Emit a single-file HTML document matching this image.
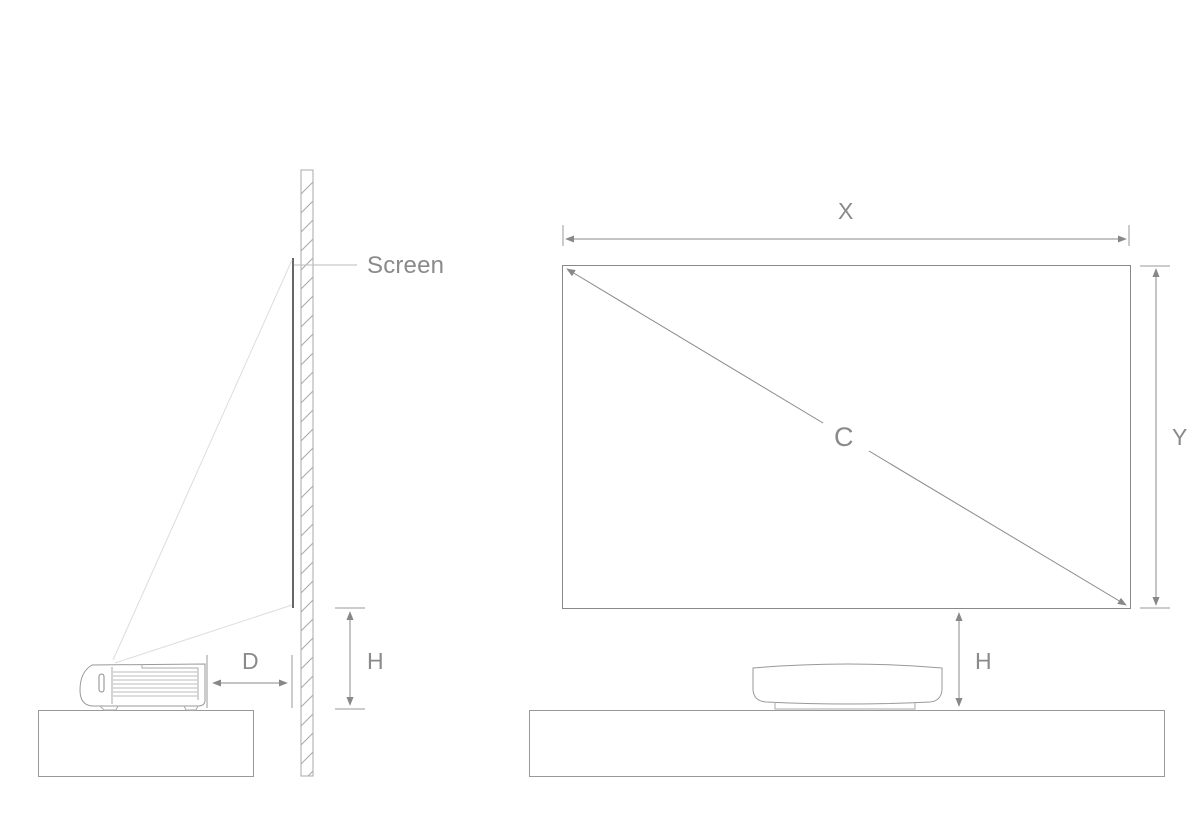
<!DOCTYPE html>
<html><head><meta charset="utf-8"><style>
html,body{margin:0;padding:0;background:#fff;}
svg{display:block}
text{font-family:"Liberation Sans",sans-serif;fill:#8a8a8a}
</style></head><body>
<svg width="1200" height="825" viewBox="0 0 1200 825" xmlns="http://www.w3.org/2000/svg">
<defs>
<marker id="a" viewBox="0 0 10 10" refX="9" refY="5" markerWidth="9" markerHeight="9" orient="auto-start-reverse" markerUnits="userSpaceOnUse"><path d="M0,1 L10,5 L0,9 z" fill="#888"/></marker>
<clipPath id="w"><rect x="301" y="170" width="12" height="606"/></clipPath>
</defs>
<g fill="none" stroke="#999" stroke-width="1">
<rect x="301" y="170" width="12" height="606" stroke="#aaa"/>
<g clip-path="url(#w)" stroke="#aaa">
<path d="M295,200 L320,175 M295,219 L320,194 M295,238 L320,213 M295,257 L320,232 M295,276 L320,251 M295,295 L320,270 M295,314 L320,289 M295,333 L320,308 M295,352 L320,327 M295,371 L320,346 M295,390 L320,365 M295,409 L320,384 M295,428 L320,403 M295,447 L320,422 M295,466 L320,441 M295,485 L320,460 M295,504 L320,479 M295,523 L320,498 M295,542 L320,517 M295,561 L320,536 M295,580 L320,555 M295,599 L320,574 M295,618 L320,593 M295,637 L320,612 M295,656 L320,631 M295,675 L320,650 M295,694 L320,669 M295,713 L320,688 M295,732 L320,707 M295,751 L320,726 M295,770 L320,745 M295,789 L320,764"/>
</g>
<line x1="293" y1="258" x2="293" y2="608" stroke="#666" stroke-width="2"/>
<line x1="294" y1="265" x2="357" y2="265" stroke="#bbb"/>
<line x1="113" y1="660" x2="292" y2="260" stroke="#ddd"/>
<line x1="115" y1="663" x2="292" y2="605" stroke="#ddd"/>
<rect x="38.5" y="710.5" width="215" height="66"/>
<path d="M92,665 L205,664 L205,700 Q205,706 198,706 L92,706 Q80,705 80,690 Q80,672 92,665 Z" stroke="#999"/>
<path d="M112,667 L112,704 M142,664 L142,668 L198,668 L198,700" stroke="#aaa"/>
<g stroke="#bbb"><path d="M113,672 H197 M113,676 H197 M113,680 H197 M113,684 H197 M113,688 H197 M113,692 H197 M113,696 H197"/></g>
<rect x="99" y="674" width="5" height="18" rx="2.5" stroke="#888"/>
<path d="M100,706 L104,710 H116 L118,706 M184,706 L186,710 H196 L198,706" stroke="#aaa"/>
<line x1="207" y1="655" x2="207" y2="708"/>
<line x1="292" y1="655" x2="292" y2="708"/>
<line x1="213" y1="683" x2="287" y2="683" stroke="#888" marker-start="url(#a)" marker-end="url(#a)"/>
<line x1="335" y1="608" x2="365" y2="608"/>
<line x1="335" y1="709" x2="365" y2="709"/>
<line x1="350" y1="612" x2="350" y2="705" stroke="#888" marker-start="url(#a)" marker-end="url(#a)"/>
<rect x="562.5" y="265.5" width="568" height="343" stroke="#888"/>
<line x1="563" y1="225" x2="563" y2="246"/>
<line x1="1129" y1="225" x2="1129" y2="246"/>
<line x1="566" y1="239" x2="1126" y2="239" stroke="#888" marker-start="url(#a)" marker-end="url(#a)"/>
<line x1="1140" y1="266" x2="1170" y2="266"/>
<line x1="1140" y1="608" x2="1170" y2="608"/>
<line x1="1156" y1="269" x2="1156" y2="605" stroke="#888" marker-start="url(#a)" marker-end="url(#a)"/>
<line x1="567" y1="269" x2="823" y2="423" stroke="#888" marker-start="url(#a)"/>
<line x1="869" y1="451" x2="1126" y2="605" stroke="#888" marker-end="url(#a)"/>
<rect x="529.5" y="710.5" width="635" height="66"/>
<line x1="959" y1="613" x2="959" y2="706" stroke="#888" marker-start="url(#a)" marker-end="url(#a)"/>
<path d="M753,668 Q848,660 942,668 L942,690 Q941,701 930,702 Q848,706 766,702 Q754,701 753,690 Z" stroke="#999"/>
<path d="M775,702 L775,709 H915 L915,702" stroke="#aaa"/>
</g>
<text x="367" y="273" font-size="24" textLength="77">Screen</text>
<text x="242" y="669" font-size="23">D</text>
<text x="367" y="669" font-size="23">H</text>
<text x="838" y="219" font-size="23">X</text>
<text x="834" y="446" font-size="27">C</text>
<text x="1172" y="445" font-size="23">Y</text>
<text x="975" y="669" font-size="23">H</text>
</svg>
</body></html>
